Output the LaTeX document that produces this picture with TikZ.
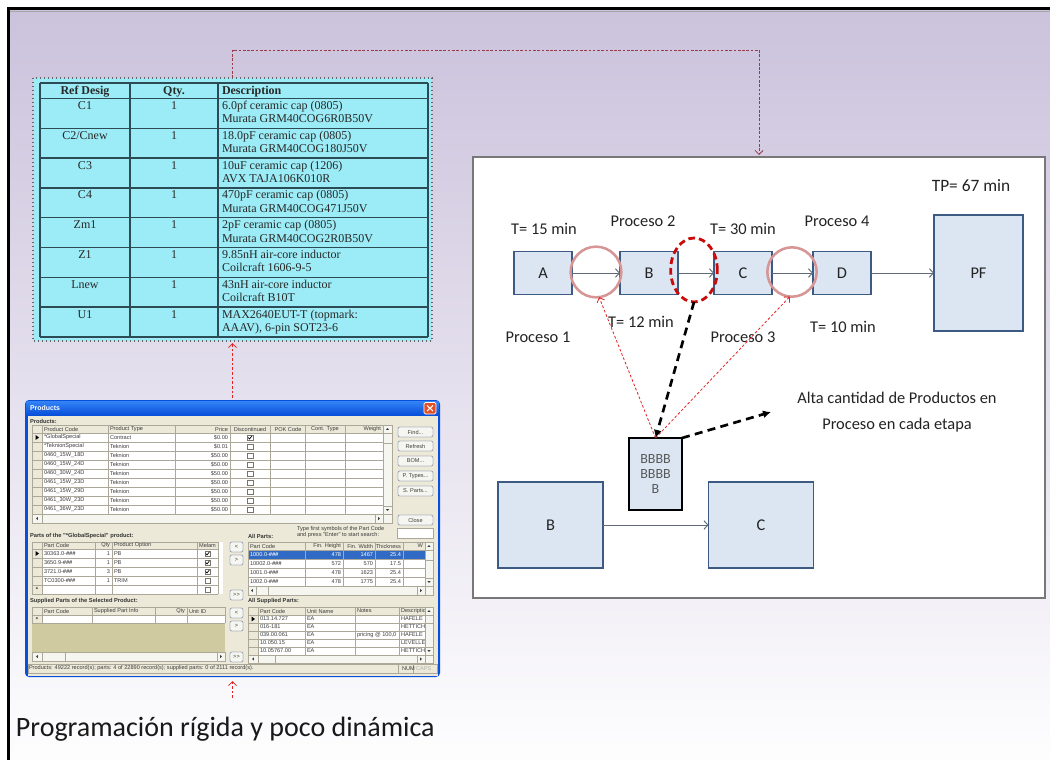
\documentclass[tikz,border=0pt]{standalone}
\usepackage{fontspec}
\setmainfont{Carlito}
\newfontfamily\bomfont{Liberation Serif}
\newfontfamily\uifont{Liberation Sans}
\usetikzlibrary{arrows.meta,shapes.geometric,fit,calc}

\definecolor{slidetop}{RGB}{203,194,220}
\definecolor{bomcyan}{RGB}{155,236,246}
\definecolor{bomrule}{RGB}{45,75,85}
\definecolor{bomink}{RGB}{40,40,40}
\definecolor{linkmaroon}{RGB}{150,60,75}
\definecolor{linkred}{RGB}{225,35,35}
\definecolor{procfill}{RGB}{220,230,242}
\definecolor{procedge}{RGB}{60,90,130}
\definecolor{flowgray}{RGB}{95,105,120}
\definecolor{ringpink}{RGB}{215,150,150}
\definecolor{ringred}{RGB}{200,10,10}
\definecolor{paneledge}{RGB}{120,120,120}
\definecolor{labelink}{RGB}{35,35,35}
\definecolor{xpbody}{RGB}{236,233,216}
\definecolor{xpframe}{RGB}{8,80,220}
\definecolor{xptitleA}{RGB}{50,130,245}
\definecolor{xptitleB}{RGB}{5,75,215}
\definecolor{xpred}{RGB}{225,80,40}
\definecolor{gridline}{RGB}{172,168,153}
\definecolor{uiink}{RGB}{60,60,60}
\definecolor{olivearea}{RGB}{207,202,160}
\definecolor{selblue}{RGB}{49,106,197}
\definecolor{btnface}{RGB}{246,246,240}
\definecolor{btnedge}{RGB}{60,80,130}

% small text helpers for the dialog window
\newcounter{uic}
\newcommand\ut[4][west]{\stepcounter{uic}\node[ui,anchor=#1] (ui\arabic{uic}) at (#2,#3) {#4};}
\newcommand\ub[4][west]{\stepcounter{uic}\node[uib,anchor=#1] (ui\arabic{uic}) at (#2,#3) {#4};}
\newcommand\cbox[3]{\draw[gridline!70!black, fill=white, line width=0.3pt] (#1-2.8,#2-2.8) rectangle (#1+2.8,#2+2.8);
  \ifnum#3=1 \draw[black, line width=0.5pt] (#1-1.8,#2) -- (#1-0.5,#2+1.5) -- (#1+1.9,#2-1.6);\fi}
\newcommand\xpbtn[5]{\draw[btnedge, fill=btnface, line width=0.3pt, rounded corners=1pt] (#1,#2) rectangle (#3,#4);
  \stepcounter{uic}\node[ui] (ui\arabic{uic}) at ($(#1,#2)!0.5!(#3,#4)$) {#5};}
\newcommand\scrlbox[4]{\draw[gridline, fill=btnface, line width=0.3pt] (#1,#2) rectangle (#3,#4);}
\newcommand\triU[2]{\fill[uiink] (#1-1.6,#2+0.9) -- (#1+1.6,#2+0.9) -- (#1,#2-0.9) -- cycle;}
\newcommand\triD[2]{\fill[uiink] (#1-1.6,#2-0.9) -- (#1+1.6,#2-0.9) -- (#1,#2+0.9) -- cycle;}
\newcommand\triL[2]{\fill[uiink] (#1+0.9,#2-1.6) -- (#1+0.9,#2+1.6) -- (#1-0.9,#2) -- cycle;}
\newcommand\triR[2]{\fill[uiink] (#1-0.9,#2-1.6) -- (#1-0.9,#2+1.6) -- (#1+0.9,#2) -- cycle;}
\newcommand\rowmark[2]{\fill[black] (#1-1.5,#2-2.5) -- (#1+2,#2) -- (#1-1.5,#2+2.5) -- cycle;}

\begin{document}
\begin{tikzpicture}[x=0.75pt,y=-0.75pt,
  every node/.style={inner sep=0pt, outer sep=0pt},
  ui/.style={font=\uifont\fontsize{4.2}{5}\selectfont, text=uiink},
  uib/.style={font=\uifont\bfseries\fontsize{4.3}{5}\selectfont, text=black!80},
  bomtxt/.style={font=\bomfont\fontsize{9}{10}\selectfont, text=bomink},
  bomhead/.style={font=\bomfont\bfseries\fontsize{9}{10}\selectfont, text=bomink},
  lbl/.style={font=\fontsize{12.3}{20}\selectfont, text=labelink},
  procbox/.style={draw=procedge, fill=procfill, line width=1.2pt, font=\fontsize{12.3}{14}\selectfont, text=labelink},
  ring/.style={circle, draw=ringpink, line width=1.9pt, minimum size=38pt},
  flow/.style={draw=flowgray, line width=0.7pt, -{Straight Barb[length=3pt,width=6.5pt]}},
  hint/.style={draw=linkred, line width=0.6pt, dash pattern=on 2pt off 1.5pt, -{Straight Barb[length=3pt,width=6pt]}},
  heavy/.style={draw=black, line width=2pt, dash pattern=on 6pt off 4pt, -{Latex[length=6pt,width=6pt]}},
  gridc/.style={draw=gridline, line width=0.35pt},
]
% ---------- slide background and frame ----------
\fill[white] (0,0) rectangle (1050,760);
\shade[top color=slidetop, bottom color=white!97!slidetop] (8,8) rectangle (1050,760);
\useasboundingbox (0,0) rectangle (1050,760);
\draw[gray!70, line width=0.8pt] (10,11.5) -- (1050,11.5);
\draw[line width=2.6pt] (8.5,760) -- (8.5,8.5) -- (1050,8.5);

% ---------- bill of materials ----------
\fill[bomcyan] (33,78) rectangle (432,341);
\draw[gray!80!black, dotted, line width=1pt] (33,78) rectangle (432,341);
\node[fit={(33,78)(432,341)}] (bom) {};
\foreach \yy in {83,98.5,128.3,158.1,187.9,217.7,247.5,277.3,307.1,337}
  \draw[bomrule, line width=1.1pt] (40,\yy) -- (428,\yy);
\foreach \xx in {40,130,218,428}
  \draw[bomrule, line width=1.1pt] (\xx,83) -- (\xx,337);
\node[bomhead, anchor=base] (hRef) at (85,94) {Ref Desig};
\node[bomhead, anchor=base] (hQty) at (174,94) {Qty.};
\node[bomhead, anchor=base west] (hDesc) at (222,94) {Description};
\foreach \i/\r/\da/\db in {
  0/C1/{6.0pf ceramic cap (0805)}/{Murata GRM40COG6R0B50V},
  1/{C2/Cnew}/{18.0pF ceramic cap (0805)}/{Murata GRM40COG180J50V},
  2/C3/{10uF ceramic cap (1206)}/{AVX TAJA106K010R},
  3/C4/{470pF ceramic cap (0805)}/{Murata GRM40COG471J50V},
  4/Zm1/{2pF ceramic cap (0805)}/{Murata GRM40COG2R0B50V},
  5/Z1/{9.85nH air-core inductor}/{Coilcraft 1606-9-5},
  6/Lnew/{43nH air-core inductor}/{Coilcraft B10T},
  7/U1/{MAX2640EUT-T (topmark:}/{AAAV), 6-pin SOT23-6}}
{
  \pgfmathsetmacro\yt{98.5+29.8*\i}
  \node[bomtxt, anchor=base] (ref\i) at (85,\yt+11) {\r};
  \node[bomtxt, anchor=base] (qty\i) at (174,\yt+11) {1};
  \node[bomtxt, anchor=base west] (dsa\i) at (222,\yt+11) {\da};
  \node[bomtxt, anchor=base west] (dsb\i) at (222,\yt+24.3) {\db};
}

% ---------- products dialog ----------
\fill[xpframe, rounded corners=3pt] (25,400) rectangle (440,677);
\shade[top color=xptitleA, bottom color=xptitleB] (26.5,401.5) rectangle (438.5,416);
\fill[xpbody] (27.5,416) rectangle (437.5,675.5);
\node[fit={(25,400)(440,677)}] (win) {};
\node[font=\uifont\bfseries\fontsize{5.2}{6}\selectfont, text=white, anchor=west] (wtitle) at (30,408.5) {Products};
\fill[xpred, rounded corners=1pt] (424,402.5) rectangle (436,414);
\draw[white, line width=0.5pt, rounded corners=1pt] (424,402.5) rectangle (436,414);
\draw[white, line width=0.8pt] (427,405.5) -- (433,411) (433,405.5) -- (427,411);

% products grid
\ub{30}{421}{Products:}
\fill[white] (32,425) rectangle (383,514);
\fill[xpbody] (32,425) rectangle (383,433);
\fill[xpbody] (32,433) rectangle (42,514);
\foreach \yy in {425,433,442,451,460,469,478,487,496,505,514}
  \draw[gridc] (32,\yy) -- (383,\yy);
\foreach \xx in {32,42,108,175,230,270,305,345,383}
  \draw[gridc] (\xx,425) -- (\xx,514);
\ut{44}{429}{Product Code}
\ut{110}{429}{Product Type}
\ut[east]{228}{429}{Price}
\ut[center]{250}{429}{Discontinued}
\ut[center]{288}{429}{POK Code}
\ut[center]{325}{429}{Cont. Type}
\ut[east]{381}{429}{Weight}
\foreach \i/\pc/\pt/\pp/\ck in {
  0/{*GlobalSpecial}/Contract/{\$0.00}/1,
  1/{*TeknionSpecial}/Teknion/{\$0.01}/0,
  2/{0460\_15W\_18D}/Teknion/{\$50.00}/0,
  3/{0460\_15W\_24D}/Teknion/{\$50.00}/0,
  4/{0460\_30W\_24D}/Teknion/{\$50.00}/0,
  5/{0461\_15W\_23D}/Teknion/{\$50.00}/0,
  6/{0461\_15W\_29D}/Teknion/{\$50.00}/0,
  7/{0461\_30W\_23D}/Teknion/{\$50.00}/0,
  8/{0461\_36W\_23D}/Teknion/{\$50.00}/0}
{
  \pgfmathsetmacro\yc{437.5+9*\i}
  \ut{44}{\yc}{\pc}
  \ut{110}{\yc}{\pt}
  \ut[east]{228}{\yc}{\pp}
  \cbox{250}{\yc}{\ck}
}
\rowmark{37}{437.5}
% scroll bars of the products grid
\scrlbox{383}{425}{392}{514}
\scrlbox{383}{425}{392}{433}\triU{387.5}{429}
\scrlbox{383}{433}{392}{443}
\scrlbox{383}{506}{392}{514}\triD{387.5}{510}
\scrlbox{32}{514}{392}{523}
\scrlbox{32}{514}{42}{523}\triL{37}{518.5}
\scrlbox{375}{514}{383}{523}\triR{379}{518.5}

% command buttons
\xpbtn{398}{427}{433}{437}{Find...}
\xpbtn{398}{441}{433}{451}{Refresh}
\xpbtn{398}{456}{433}{466}{BOM...}
\xpbtn{398}{471}{433}{481}{P. Types...}
\xpbtn{398}{486}{433}{496}{S. Parts...}
\xpbtn{398}{515}{433}{525}{Close}

% search hint
\ut{297}{529}{Type first symbols of the Part Code}
\ut{297}{535}{and press "Enter" to start search:}
\draw[gridline, fill=white, line width=0.3pt] (397,528) rectangle (433,538);

% parts of the selected product
\ub{30}{536}{Parts of the "*GlobalSpecial" product:}
\ub{248}{536}{All Parts:}
\fill[white] (32,542) rectangle (223,594);
\fill[xpbody] (32,542) rectangle (218,549);
\fill[xpbody] (32,549) rectangle (42,594);
\foreach \yy in {542,549,558,567,576,585,594}
  \draw[gridc] (32,\yy) -- (218,\yy);
\foreach \xx in {32,42,95,112,197,218}
  \draw[gridc] (\xx,542) -- (\xx,594);
\ut{44}{545.5}{Part Code}
\ut[east]{110}{545.5}{Qty}
\ut{114}{545.5}{Product Option}
\ut[center]{207.5}{545.5}{Melam}
\foreach \i/\pc/\pq/\po/\ck in {
  0/{30363.0-\textbf{\textit{\#\#\#}}}/1/PB/1,
  1/{3650.9-\textbf{\textit{\#\#\#}}}/1/PB/1,
  2/{3721.0-\textbf{\textit{\#\#\#}}}/3/PB/1,
  3/{TC0300-\textbf{\textit{\#\#\#}}}/1/TRIM/0}
{
  \pgfmathsetmacro\yc{553.5+9*\i}
  \ut{44}{\yc}{\pc}
  \ut[east]{110}{\yc}{\pq}
  \ut{114}{\yc}{\po}
  \cbox{207.5}{\yc}{\ck}
}
\rowmark{37}{553.5}
\ub[center]{37}{590}{*}
\cbox{207.5}{589.5}{0}

% all parts
\fill[white] (248,542) rectangle (425,586);
\fill[xpbody] (248,542) rectangle (425,550);
\fill[selblue] (248,550) rectangle (425,559);
\foreach \yy in {542,550,559,568,577,586}
  \draw[gridc] (248,\yy) -- (425,\yy);
\foreach \xx in {248,305,343,375,403,425}
  \draw[gridc] (\xx,542) -- (\xx,586);
\ut{250}{546}{Part Code}
\ut[east]{341}{546}{Fin. Height}
\ut[east]{373}{546}{Fin. Width}
\ut[east]{401}{546}{Thickness}
\ut[east]{423}{546}{W}
\begin{scope}[ui/.append style={text=white}]
\ut{250}{554.5}{1000.0-\textbf{\textit{\#\#\#}}}
\ut[east]{341}{554.5}{478}
\ut[east]{373}{554.5}{1467}
\ut[east]{401}{554.5}{25.4}
\end{scope}
\foreach \i/\pc/\fh/\fw/\th in {
  1/{10002.0-\textbf{\textit{\#\#\#}}}/572/570/17.5,
  2/{1001.0-\textbf{\textit{\#\#\#}}}/478/1623/25.4,
  3/{1002.0-\textbf{\textit{\#\#\#}}}/478/1775/25.4}
{
  \pgfmathsetmacro\yc{554.5+9*\i}
  \ut{250}{\yc}{\pc}
  \ut[east]{341}{\yc}{\fh}
  \ut[east]{373}{\yc}{\fw}
  \ut[east]{401}{\yc}{\th}
}
\scrlbox{425}{542}{433}{586}
\scrlbox{425}{542}{433}{550}\triU{429}{546}
\scrlbox{425}{550}{433}{560}
\scrlbox{425}{578}{433}{586}\triD{429}{582}
\scrlbox{248}{586}{433}{595}
\scrlbox{248}{586}{256}{595}\triL{252}{590.5}
\scrlbox{256}{586}{268}{595}
\scrlbox{417}{586}{425}{595}\triR{421}{590.5}

% transfer buttons
\xpbtn{230}{542}{243}{552}{<}
\xpbtn{230}{555}{243}{565}{>}
\xpbtn{230}{590}{243}{600}{>>}
\xpbtn{230}{608}{243}{618}{<}
\xpbtn{230}{621}{243}{631}{>}
\xpbtn{230}{652}{243}{662}{>>}

% supplied parts of the selected product
\ub{30}{601.5}{Supplied Parts of the Selected Product:}
\ub{248}{601.5}{All Supplied Parts:}
\fill[white] (32,607) rectangle (225,623);
\fill[xpbody] (32,607) rectangle (225,615);
\fill[xpbody] (32,615) rectangle (42,623);
\fill[olivearea] (32,623) rectangle (225,652);
\foreach \yy in {607,615,623}
  \draw[gridc] (32,\yy) -- (225,\yy);
\foreach \xx in {32,42,92,155,187,225}
  \draw[gridc] (\xx,607) -- (\xx,623);
\ut{44}{611}{Part Code}
\ut{94}{611}{Supplied Part Info}
\ut[east]{185}{611}{Qty}
\ut{189}{611}{Unit ID}
\ub[center]{37}{619.5}{*}
\scrlbox{32}{652}{225}{661}
\scrlbox{32}{652}{42}{661}\triL{37}{656.5}
\scrlbox{42}{652}{65}{661}
\scrlbox{217}{652}{225}{661}\triR{221}{656.5}

% all supplied parts
\fill[white] (248,607) rectangle (425,655);
\fill[xpbody] (248,607) rectangle (425,615);
\fill[xpbody] (248,615) rectangle (258,655);
\foreach \yy in {607,615,623,631,639,647,655}
  \draw[gridc] (248,\yy) -- (425,\yy);
\foreach \xx in {248,258,305,355,399,425}
  \draw[gridc] (\xx,607) -- (\xx,655);
\ut{260}{611}{Part Code}
\ut{307}{611}{Unit Name}
\ut{357}{611}{Notes}
\begin{scope}
\clip (399,607) rectangle (425,655);
\ut{401}{611}{Description}
\ut{401}{619}{HAFELE}
\ut{401}{627}{HETTICH}
\ut{401}{635}{HAFELE}
\ut{401}{643}{LEVELLER}
\ut{401}{651}{HETTICH}
\end{scope}
\foreach \i/\pc/\un in {0/013.14.727/EA, 1/016-181/EA, 2/039.00.061/EA, 3/10.050.15/EA, 4/10.05767.00/EA}
{
  \pgfmathsetmacro\yc{619+8*\i}
  \ut{260}{\yc}{\pc}
  \ut{307}{\yc}{\un}
}
\ut{357}{635}{pricing @ 100,0}
\rowmark{253}{619}
\scrlbox{425}{607}{433}{655}
\scrlbox{425}{607}{433}{615}\triU{429}{611}
\scrlbox{425}{615}{433}{623}
\scrlbox{425}{647}{433}{655}\triD{429}{651}
\scrlbox{248}{655}{433}{663}
\scrlbox{248}{655}{258}{663}\triL{253}{659}
\scrlbox{258}{655}{275}{663}
\scrlbox{417}{655}{425}{663}\triR{421}{659}

% status bar
\draw[gridc, fill=xpbody] (28,664) rectangle (437,673);
\draw[gridc] (398,664) -- (398,673) (413,664) -- (413,673);
\ut{29}{668.5}{Products: 49222 record(s); parts: 4 of 22890 record(s); supplied parts: 0 of 2111 record(s).}
\ut{402}{668.5}{NUM}
\begin{scope}[ui/.append style={text=gray!60}]
\ut{416}{668.5}{CAPS}
\end{scope}

% ---------- caption ----------
\node[font=\fontsize{21}{24}\selectfont, text=black!90, anchor=base west] (prog) at (16,736) {Programación rígida y poco dinámica};

% ---------- process panel ----------
\fill[white] (473,157) rectangle (1045,598);
\draw[paneledge, line width=1.2pt] (473,157) rectangle (1045,598);
\node[fit={(473,157)(1045,598)}] (panel) {};

\node[procbox, minimum width=43.5pt, minimum height=32pt] (A) at (543,273) {A};
\node[procbox, minimum width=43.5pt, minimum height=32pt] (B) at (649,273) {B};
\node[procbox, minimum width=43.5pt, minimum height=32pt] (C) at (743,273) {C};
\node[procbox, minimum width=43.5pt, minimum height=32pt] (D) at (842,273) {D};
\node[procbox, minimum width=66.75pt, minimum height=87pt] (PF) at (978.5,273) {PF};

\draw[flow] (A) -- (B);
\draw[flow] (B) -- (C);
\draw[flow] (C) -- (D);
\draw[flow] (D) -- (PF);

\node[ring] (ring1) at (596,272) {};
\node[ring, minimum size=37pt] (ring2) at (792,272) {};
\node[ellipse, draw=ringred, line width=2.1pt, dash pattern=on 5pt off 3pt, minimum width=35pt, minimum height=48pt] (ellring) at (694,270) {};

\node[lbl, font=\fontsize{13}{15}\selectfont] (tp) at (971,186) {TP= 67 min};
\node[lbl] (t15) at (544,229) {T= 15 min};
\node[lbl] (p2) at (643,221) {Proceso 2};
\node[lbl] (t30) at (743,229) {T= 30 min};
\node[lbl] (p4) at (837,221) {Proceso 4};
\node[lbl] (t12) at (641,322) {T= 12 min};
\node[lbl] (p1) at (538,337) {Proceso 1};
\node[lbl] (p3) at (743,337) {Proceso 3};
\node[lbl] (t10) at (843,327) {T= 10 min};

% work in process pile
\node[draw=black, fill=procfill, line width=1.8pt, minimum width=39.75pt, minimum height=54pt,
      align=center, font=\fontsize{10.5}{11.5}\selectfont, text=gray!70!black] (wip) at (655.5,474) {BBBB\\BBBB\\B};

\draw[hint] (wip.north) -- (ring1.-83);
\draw[hint] (wip.north) -- (ring2.-95);
\draw[heavy] (ellring.south) -- (wip.north);
\coordinate (altatip) at (771,412);
\draw[heavy] (wip.north east) -- (altatip);
\node[lbl, align=center] (alta) at (897,412) {Alta cantidad de Productos en\\Proceso en cada etapa};

\node[procbox, minimum width=78.75pt, minimum height=64.5pt] (B2) at (550.5,525) {B};
\node[procbox, minimum width=78.75pt, minimum height=64.5pt] (C2) at (761,525) {C};
\draw[flow] (B2) -- (C2);

% ---------- dashed links between the pieces ----------
\draw[draw=linkmaroon, line width=0.6pt, dash pattern=on 2pt off 1.2pt, -{Straight Barb[length=3pt,width=6pt]}]
  (bom.north) -- ++(0,-28) -| ([yshift=1.5pt]panel.north);
\draw[hint, shorten <=1.5pt, shorten >=1.5pt] (win.north) -- (bom.south);
\draw[hint, shorten <=14pt, shorten >=3pt] (win.south |- prog.north) -- (win.south);
\end{tikzpicture}
\end{document}
